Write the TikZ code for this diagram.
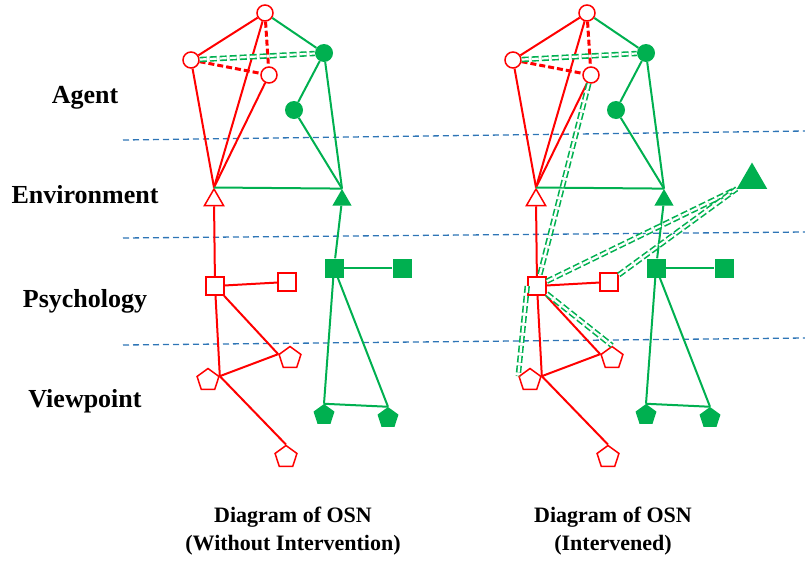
\documentclass[tikz,border=0pt]{standalone}
\usepackage{fontspec}
\setmainfont{Liberation Serif}
\usetikzlibrary{shapes.geometric}
\definecolor{osnred}{HTML}{FF0000}
\definecolor{osngreen}{HTML}{00B050}
\definecolor{layerblue}{HTML}{2E75B6}
\tikzset{
  redline/.style={draw=osnred, line width=2pt},
  greenline/.style={draw=osngreen, line width=2pt},
  reddash/.style={draw=osnred, line width=3pt, dash pattern=on 6pt off 3pt},
  interlink/.style={draw=osngreen, line width=1.6pt, double=white, double distance=2.2pt, dash pattern=on 7pt off 3pt},
  layerline/.style={draw=layerblue, line width=1.3pt, dash pattern=on 6pt off 4pt},
  agentred/.style={circle, draw=osnred, line width=1.5pt, fill=white, minimum size=16pt, inner sep=0pt},
  agentgreen/.style={circle, fill=osngreen, minimum size=18pt, inner sep=0pt},
  envred/.style={regular polygon, regular polygon sides=3, draw=osnred, line width=1.5pt, fill=white, minimum size=22pt, inner sep=0pt},
  envgreen/.style={regular polygon, regular polygon sides=3, fill=osngreen, minimum size=22pt, inner sep=0pt},
  psyred/.style={rectangle, draw=osnred, line width=1.5pt, fill=white, minimum size=18pt, inner sep=0pt},
  psygreen/.style={rectangle, fill=osngreen, minimum size=19pt, inner sep=0pt},
  viewred/.style={regular polygon, regular polygon sides=5, draw=osnred, line width=1.5pt, fill=white, minimum size=23pt, inner sep=0pt},
  viewgreen/.style={regular polygon, regular polygon sides=5, fill=osngreen, minimum size=22pt, inner sep=0pt},
  layerlabel/.style={font=\fontsize{26}{30}\selectfont\bfseries},
  caption/.style={font=\fontsize{22}{28}\selectfont\bfseries, align=center}
}
\begin{document}
\begin{tikzpicture}[x=1pt, y=-1pt]
\useasboundingbox (0,0) rectangle (805,560);
% layers
\draw[layerline] (123,140) -- (805,131);
\draw[layerline] (123,238) -- (805,232);
\draw[layerline] (123,345) -- (805,338);
\node[layerlabel] (agent) at (85,98) {Agent};
\node[layerlabel] (environment) at (85,195) {Environment};
\node[layerlabel] (psychology) at (85,301) {Psychology};
\node[layerlabel] (viewpoint) at (85,401) {Viewpoint};
% both diagrams
\foreach \side/\dx in {l/0, r/322} {
  \begin{scope}[shift={(\dx,0)}]
    \node[agentred] (\side-A1) at (265,13) {};
    \node[agentred] (\side-A2) at (191,60) {};
    \node[agentred] (\side-A3) at (269,75) {};
    \node[agentgreen] (\side-G1) at (324,53) {};
    \node[agentgreen] (\side-G2) at (294,110) {};
    \node[envred] (\side-E1) at (214,200) {};
    \node[envgreen] (\side-E2) at (342,200) {};
    \node[psyred] (\side-P1) at (215,286) {};
    \node[psyred] (\side-P2) at (287,282) {};
    \node[psygreen] (\side-P3) at (334,268) {};
    \node[psygreen] (\side-P4) at (402,268) {};
    \node[viewred] (\side-V1) at (290,358) {};
    \node[viewred] (\side-V2) at (208,380) {};
    \node[viewred] (\side-V3) at (286,457) {};
    \node[viewgreen] (\side-V4) at (324,415) {};
    \node[viewgreen] (\side-V5) at (388,418) {};
  \end{scope}
  \draw[redline] (\side-A1) -- (\side-A2);
  \draw[redline] (\side-A1) -- (\side-E1.corner 1);
  \draw[redline] (\side-A2) -- (\side-E1.corner 1);
  \draw[redline] (\side-A3) -- (\side-E1.corner 1);
  \draw[redline] (\side-E1) -- (\side-P1);
  \draw[redline] (\side-P1) -- (\side-P2);
  \draw[redline] (\side-P1) -- (\side-V1.corner 2);
  \draw[redline] (\side-P1) -- (\side-V2.corner 5);
  \draw[redline] (\side-V2.corner 5) -- (\side-V1.corner 2);
  \draw[redline] (\side-V2.corner 5) -- (\side-V3.corner 1);
  \draw[reddash] (\side-A1) -- (\side-A3);
  \draw[reddash] (\side-A2) -- (\side-A3);
  \draw[greenline] (\side-A1) -- (\side-G1);
  \draw[greenline] (\side-G1) -- (\side-G2);
  \draw[greenline] (\side-G1) -- (\side-E2.corner 1);
  \draw[greenline] (\side-G2) -- (\side-E2.corner 1);
  \draw[greenline] (\side-E1.corner 1) -- (\side-E2.corner 1);
  \draw[greenline] (\side-E2) -- (\side-P3);
  \draw[greenline] (\side-P3) -- (\side-P4);
  \draw[greenline] (\side-P3) -- (\side-V4.corner 1);
  \draw[greenline] (\side-P3) -- (\side-V5.corner 1);
  \draw[greenline] (\side-V4.corner 1) -- (\side-V5.corner 1);
  \draw[interlink] (\side-A2) -- (\side-G1);
}
% intervention
\node[envgreen, minimum size=35pt] (r-E3) at (752,180) {};
\draw[interlink] (r-A3) -- (r-P1);
\draw[interlink] (r-P1) -- (r-E3.corner 2);
\draw[interlink] (r-P2) -- (r-E3.corner 2);
\draw[interlink] (r-P1) -- (r-V1.corner 1);
\draw[interlink] (r-P1.west) -- (r-V2.corner 2);
% captions
\node[caption] (leftcap) at (293,531) {Diagram of OSN\\(Without Intervention)};
\node[caption] (rightcap) at (613,531) {Diagram of OSN\\(Intervened)};
\end{tikzpicture}
\end{document}
